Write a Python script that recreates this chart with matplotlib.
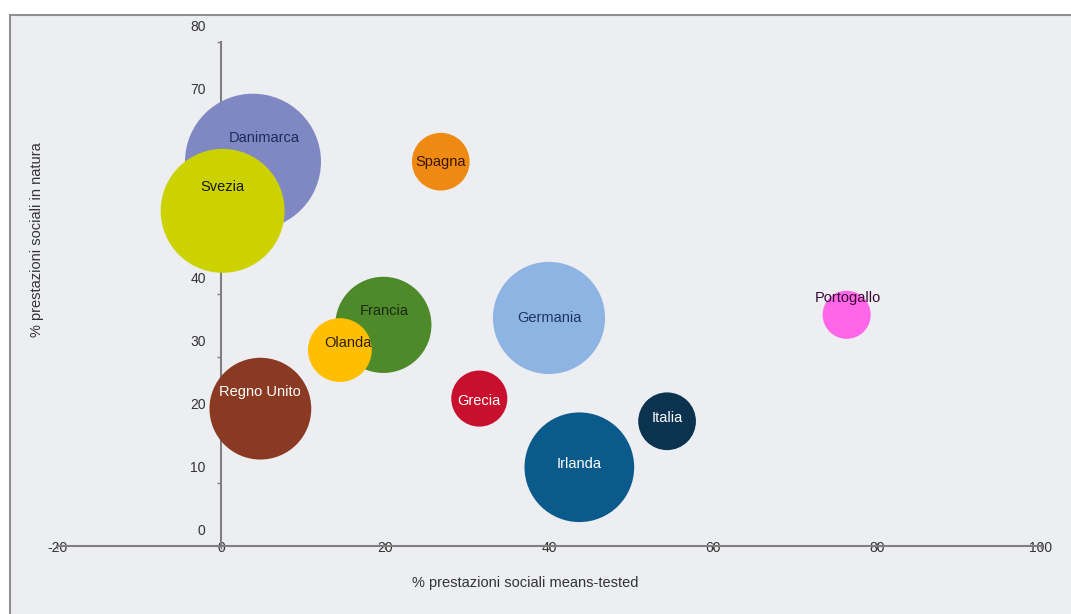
import matplotlib
matplotlib.use("Agg")
import matplotlib.pyplot as plt
import matplotlib.patches as mpatches
from matplotlib.transforms import ScaledTranslation

plt.rcParams["font.family"] = ["Liberation Sans", "DejaVu Sans"]
plt.rcParams["axes.unicode_minus"] = False

# dati
paesi = ["Danimarca", "Svezia", "Spagna", "Francia", "Olanda", "Regno Unito",
         "Germania", "Grecia", "Irlanda", "Italia", "Portogallo"]
means_tested = [3.9, 0.2, 26.8, 19.8, 14.5, 4.8, 40.0, 31.5, 43.7, 54.4, 76.3]
in_natura = [61.0, 53.2, 61.0, 35.1, 31.1, 21.8, 36.2, 23.4, 12.5, 19.8, 36.7]
peso = [100, 83, 18, 50, 22, 56, 68, 17, 65, 18, 12.5]

# stile
colori = ["#8088c3", "#ccd100", "#ee8a12", "#4e8a2a", "#ffbf00", "#8a3a22",
          "#8db4e2", "#c8102e", "#0b5a8c", "#0b324e", "#ff66e8"]
colori_testo = ["#1f2a5a", "#1a1a00", "#3a1500", "#1a2a10", "#2a2000", "white",
                "#1f3560", "white", "white", "white", "#3a0a35"]
# spostamento etichette (punti)
offset_etic = [(8, 17), (0, 17), (0, 0), (1, 10), (6, 5), (0, 12),
               (0, 0), (0, -2), (0, 2), (0, 2), (1, 12)]

fig = plt.figure(figsize=(10.71, 6.14), dpi=100)
fig.patch.set_facecolor("white")
sfondo = mpatches.Rectangle((10 / 1071, -0.05), 1.2, 1.05 - 15 / 614,
                            transform=fig.transFigure, facecolor="#eceef1",
                            edgecolor="#8f8f8f", linewidth=1.5, zorder=-1)
fig.patches.append(sfondo)

ax = fig.add_axes([57 / 1071, 68 / 614, 984 / 1071, 504 / 614])
ax.set_facecolor("none")
ax.set_xlim(-20, 100)
ax.set_ylim(0, 80)

k = 95.9
ax.scatter(means_tested, in_natura, s=[p * k for p in peso], c=colori,
           edgecolors="none", zorder=3, clip_on=False)

for nome, x, y, ct, (dx, dy) in zip(paesi, means_tested, in_natura, colori_testo, offset_etic):
    ax.annotate(nome, (x, y), xytext=(dx, dy), textcoords="offset points",
                ha="center", va="center", fontsize=10.5, color=ct, zorder=4)

for s in ["top", "right"]:
    ax.spines[s].set_visible(False)
ax.spines["left"].set_position(("data", 0))
ax.spines["bottom"].set_position(("data", 0))
for s in ["left", "bottom"]:
    ax.spines[s].set_color("#7f7f7f")
    ax.spines[s].set_linewidth(1.5)

ax.set_xticks([-20, 0, 20, 40, 60, 80, 100])
ax.set_yticks(range(0, 81, 10))
ax.tick_params(axis="x", direction="inout", length=4, width=1, color="#7f7f7f",
               pad=-5.5, labelsize=10, labelcolor="#333333")
ax.tick_params(axis="y", direction="out", length=3, width=1, color="#7f7f7f",
               pad=8, labelsize=10, labelcolor="#333333")
sposta = ScaledTranslation(0, 12 / 72, fig.dpi_scale_trans)
for lab in ax.get_yticklabels():
    lab.set_transform(lab.get_transform() + sposta)

fig.text(525 / 1071, 1 - 583 / 614, "% prestazioni sociali means-tested",
         ha="center", va="center", fontsize=10.5, color="#333333")
fig.text(37 / 1071, 1 - 240 / 614, "% prestazioni sociali in natura",
         ha="center", va="center", rotation=90, fontsize=10.5, color="#333333")

fig.savefig("out.png", dpi=100)
